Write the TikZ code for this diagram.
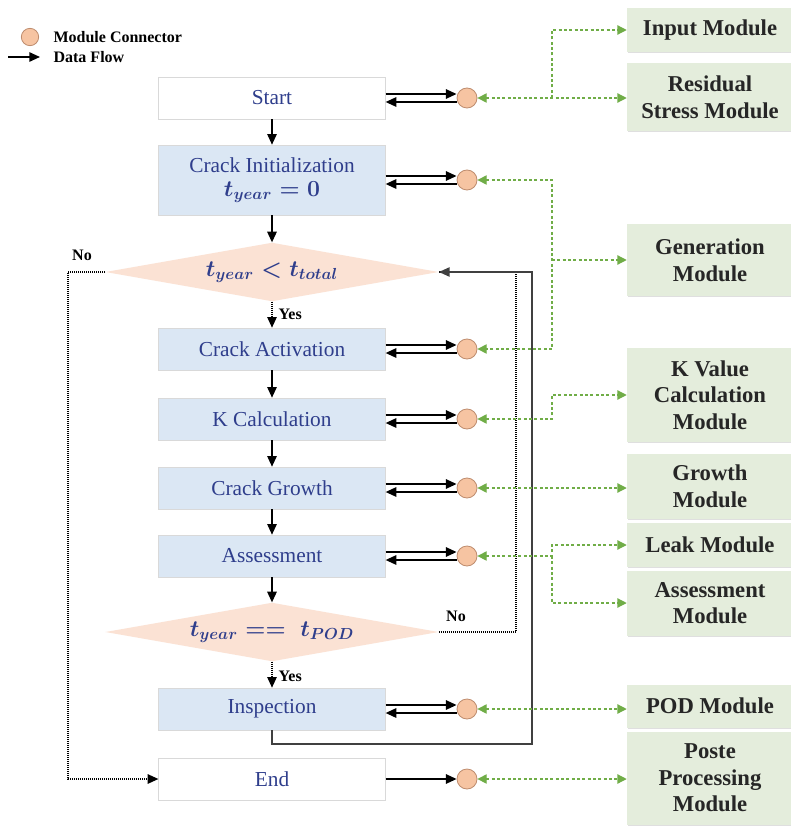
\documentclass[tikz,border=0pt]{standalone}
\usepackage{fontspec}
\setmainfont{Liberation Serif}
\usepackage{amsmath}
\usetikzlibrary{shapes.geometric,arrows.meta,shadows}

\definecolor{txtblue}{RGB}{47,62,140}
\definecolor{boxblue}{RGB}{219,231,244}
\definecolor{peach}{RGB}{251,226,212}
\definecolor{connfill}{RGB}{246,196,162}
\definecolor{conndraw}{RGB}{190,140,110}
\definecolor{modfill}{RGB}{228,237,220}
\definecolor{linkgreen}{RGB}{112,173,71}

\begin{document}
\begin{tikzpicture}[x=0.75pt,y=-0.75pt,
  soft/.style={drop shadow={shadow xshift=0.7pt, shadow yshift=-0.9pt, opacity=0.25}},
  proc/.style={rectangle, minimum width=170pt, minimum height=31.5pt, fill=boxblue,
    draw=gray!30, line width=0.4pt, text=txtblue, font=\fontsize{16}{19}\selectfont,
    align=center, soft},
  term/.style={proc, fill=white},
  decision/.style={diamond, aspect=5.6, minimum width=250pt, minimum height=44pt,
    inner sep=0pt, fill=peach, draw=none, text=txtblue,
    font=\fontsize{16.5}{19}\selectfont\boldmath},
  conn/.style={circle, minimum size=15pt, inner sep=0pt, fill=connfill,
    draw=conndraw, line width=0.6pt},
  module/.style={rectangle, minimum width=124.5pt, fill=modfill, draw=none,
    text=black!85, font=\fontsize{17}{20}\selectfont\bfseries, align=center, soft},
  lab/.style={font=\fontsize{12}{14}\selectfont\bfseries, inner sep=1pt},
  tip/.style={-{Triangle[length=8pt,width=7pt]}},
  flow/.style={draw=black, line width=1.3pt, tip},
  dotl/.style={draw=black, line width=1.2pt, dash pattern=on 0.8pt off 0.7pt},
  back/.style={draw=black!75, line width=1.1pt},
  gl/.style={draw=linkgreen, line width=0.9pt, dash pattern=on 2.2pt off 1.8pt},
  gto/.style={gl, -{Triangle[length=7pt,width=7pt]}},
  gboth/.style={gl, {Triangle[length=7pt,width=7pt]}-{Triangle[length=7pt,width=7pt]}}
]
\useasboundingbox (0,0) rectangle (791,827);
\fill[white] (0,0) rectangle (791,827);

% legend
\node[conn, minimum size=13pt] (lgc) at (30,37) {};
\node[lab, anchor=west] (lgct) at (52,37) {Module Connector};
\coordinate (lga) at (8,57);
\coordinate (lgb) at (40,57);
\draw[flow] (lga) -- (lgb);
\node[lab, anchor=west] (lgft) at (52,57) {Data Flow};

% main flow
\node[term] (start) at (272,98) {Start};
\node[proc, minimum height=52.5pt] (init) at (272,180) {Crack Initialization\\[-1pt] {\fontsize{16.5}{19}\selectfont\boldmath$t_{year} = 0$}};
\node[decision] (d1) at (272,272) {$t_{year} < t_{total}$};
\node[proc] (act) at (272,349) {Crack Activation};
\node[proc] (kcal) at (272,419) {K Calculation};
\node[proc] (grow) at (272,488) {Crack Growth};
\node[proc] (assess) at (272,556) {Assessment};
\node[decision] (d2) at (272,632) {$t_{year} ==\; t_{POD}$};
\node[proc] (insp) at (272,709) {Inspection};
\node[term] (end) at (272,779) {End};

% module connectors
\node[conn] (c1) at (467,98) {};
\node[conn] (c2) at (467,180) {};
\node[conn] (c4) at (467,349) {};
\node[conn] (c5) at (467,419) {};
\node[conn] (c6) at (467,488) {};
\node[conn] (c7) at (467,556) {};
\node[conn] (c8) at (467,709) {};
\node[conn] (c9) at (467,779) {};

% modules
\node[module, minimum height=33pt] (m1) at (710,30) {Input Module};
\node[module, minimum height=51pt] (m2) at (710,97) {Residual\\Stress Module};
\node[module, minimum height=54pt] (m3) at (710,260) {Generation\\Module};
\node[module, minimum height=70.5pt] (m4) at (710,395) {K Value\\Calculation\\Module};
\node[module, minimum height=48.75pt] (m5) at (710,486) {Growth\\Module};
\node[module, minimum height=33pt] (m6) at (710,545) {Leak Module};
\node[module, minimum height=48.75pt] (m7) at (710,603) {Assessment\\Module};
\node[module, minimum height=32.25pt] (m8) at (710,706) {POD Module};
\node[module, minimum height=69.75pt] (m9) at (710,778) {Poste\\Processing\\Module};

% vertical data flow
\draw[flow] (start) -- (init);
\draw[flow] (init) -- (d1);
\draw[dotl, tip] (d1) -- (act);
\node[lab, anchor=west] (yes1) at (277,314) {Yes};
\draw[flow] (act) -- (kcal);
\draw[flow] (kcal) -- (grow);
\draw[flow] (grow) -- (assess);
\draw[flow] (assess) -- (d2);
\draw[dotl, tip] (d2) -- (insp);
\node[lab, anchor=west] (yes2) at (277,676) {Yes};

% loops
\coordinate (nl) at (68,0);
\coordinate (nr) at (516,0);
\coordinate (rr) at (532,744);
\draw[dotl, tip] (d1.west) -- (d1.west -| nl) |- (end.west);
\node[lab] (no1) at (82,255) {No};
\draw[dotl] (d2.east) -- (d2.east -| nr) -- (d1.east -| nr) -- (d1.east);
\node[lab] (no2) at (456,616) {No};
\draw[back, tip] (insp.south) |- (rr) -- (rr |- d1.east) -- (d1.east);

% data exchange with connectors
\foreach \b/\c in {start/c1, init/c2, act/c4, kcal/c5, grow/c6, assess/c7, insp/c8} {
  \draw[flow] ([yshift=3pt]\b.east) -- ([yshift=3pt]\c.west);
  \draw[flow] ([yshift=-3pt]\c.west) -- ([yshift=-3pt]\b.east);
}
\draw[flow] (end) -- (c9);

% links to modules
\coordinate (jx) at (552,0);
\draw[gboth] (c1.east) -- (c1.east -| m2.west);
\draw[gto] (c1.east -| jx) |- (m1.west);
\draw[gboth] (c2.east) -- (c2.east -| jx) -- (c4.east -| jx) -- (c4.east);
\draw[gto] (jx |- m3.west) -- (m3.west);
\draw[gboth] (c5.east) -- (c5.east -| jx) |- (m4.west);
\draw[gboth] (c6.east) -- (c6.east -| m5.west);
\draw[gboth] (c7.east) -- (c7.east -| jx) |- (m6.west);
\draw[gto] (c7.east -| jx) |- (m7.west);
\draw[gboth] (c8.east) -- (c8.east -| m8.west);
\draw[gboth] (c9.east) -- (c9.east -| m9.west);
\end{tikzpicture}
\end{document}
